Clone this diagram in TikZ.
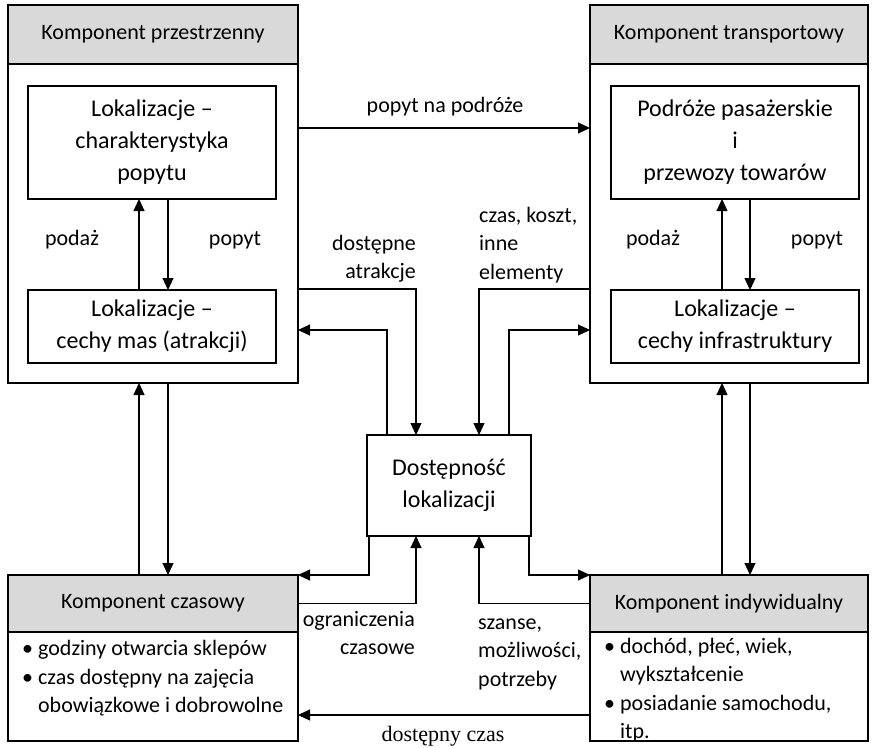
\documentclass[tikz,border=0pt]{standalone}
\usepackage{fontspec}
\setmainfont{Carlito}
\newfontfamily\timesfont{Liberation Serif}
\usetikzlibrary{positioning,arrows.meta}
\definecolor{headgray}{RGB}{217,217,217}

\begin{document}
\begin{tikzpicture}[x=1pt, y=-1pt,
    head/.style={draw, fill=headgray, line width=1.1pt, inner sep=0pt, outer sep=0pt, font=\fontsize{22}{26}\selectfont},
    body/.style={draw, line width=1.1pt, inner sep=0pt, outer sep=0pt},
    inbox/.style={draw, line width=1.1pt, minimum width=248, inner sep=0pt, outer sep=0pt, align=center, font=\fontsize{24}{32}\selectfont},
    lbl/.style={inner sep=0pt, font=\fontsize{22}{28.5}\selectfont},
    arrow/.style={-{Triangle[length=12pt,width=11pt]}, line width=1.1pt}
]
    \useasboundingbox (0,0) rectangle (875,747);

    % four components
    \node[head, minimum width=290, minimum height=59] (przestrzHead) at (153,34.5) {Komponent przestrzenny};
    \node[body, minimum width=290, minimum height=319, below=0pt of przestrzHead] (przestrz) {};
    \node[head, minimum width=278, minimum height=59] (transpHead) at (729,34.5) {Komponent transportowy};
    \node[body, minimum width=278, minimum height=319, below=0pt of transpHead] (transp) {};
    \node[head, minimum width=290, minimum height=57] (czasHead) at (153,603.5) {Komponent czasowy};
    \node[body, minimum width=290, minimum height=109, below=0pt of czasHead] (czasBody) {};
    \node[head, minimum width=278, minimum height=57] (indHead) at (729,603.5) {Komponent indywidualny};
    \node[body, minimum width=278, minimum height=109, below=0pt of indHead] (indBody) {};

    % inner boxes
    \node[inbox, minimum height=113] (lokPop) at (152,142.5) {Lokalizacje --\\charakterystyka\\popytu};
    \node[inbox, minimum height=73] (lokMas) at (152,326.5) {Lokalizacje --\\cechy mas (atrakcji)};
    \node[inbox, minimum height=113] (podr) at (735,142.5) {Podróże pasażerskie\\i\\przewozy towarów};
    \node[inbox, minimum height=73] (lokInf) at (735,326.5) {Lokalizacje --\\cechy infrastruktury};
    \node[inbox, minimum width=164, minimum height=101] (dost) at (449,485.5) {Dostępność\\lokalizacji};

    % lists
    \node[lbl, anchor=west, align=left] (czasList) at (22,678.5)
        {\textbullet\ godziny otwarcia sklepów\\\textbullet\ czas dostępny na zajęcia\\\hphantom{\textbullet}\ obowiązkowe i dobrowolne};
    \node[lbl, anchor=west, align=left] (indList) at (604,690)
        {\textbullet\ dochód, płeć, wiek,\\\hphantom{\textbullet}\ wykształcenie\\\textbullet\ posiadanie samochodu,\\\hphantom{\textbullet}\ itp.};

    % labels
    \node[lbl] (popytTop) at (445,107) {popyt na podróże};
    \node[lbl] (podazL) at (72,240) {podaż};
    \node[lbl] (popytL) at (235,240) {popyt};
    \node[lbl] (podazR) at (653,240) {podaż};
    \node[lbl] (popytR) at (817,240) {popyt};
    \node[lbl, anchor=east, align=right] (dostAtr) at (416,258.5) {dostępne\\atrakcje};
    \node[lbl, anchor=west, align=left] (czasKoszt) at (479,245) {czas, koszt,\\inne\\elementy};
    \node[lbl, anchor=east, align=right] (ogran) at (415,633) {ograniczenia\\czasowe};
    \node[lbl, anchor=west, align=left] (szanse) at (478,654) {szanse,\\możliwości,\\potrzeby};
    \node[inner sep=0pt, font=\timesfont\fontsize{22}{26}\selectfont] (dostCzas) at (443,736) {dostępny czas};

    % inside the components
    \draw[arrow] ([xshift=-13]lokMas.north) -- ([xshift=-13]lokPop.south);
    \draw[arrow] ([xshift=16]lokPop.south) -- ([xshift=16]lokMas.north);
    \draw[arrow] ([xshift=-13]lokInf.north) -- ([xshift=-13]podr.south);
    \draw[arrow] ([xshift=15]podr.south) -- ([xshift=15]lokInf.north);

    % between the components
    \draw[arrow] ([yshift=95.5]przestrz.east) -- ([yshift=95.5]transp.west);
    \draw[arrow] ([xshift=-14]czasHead.north) -- ([xshift=-14]przestrz.south);
    \draw[arrow] ([xshift=15]przestrz.south) -- ([xshift=15]czasHead.north);
    \draw[arrow] ([xshift=-7]indHead.north) -- ([xshift=-7]transp.south);
    \draw[arrow] ([xshift=21]transp.south) -- ([xshift=21]indHead.north);
    \draw[arrow] ([yshift=-28.5]indBody.west) -- ([yshift=-28.5]czasBody.east);

    % to and from the accessibility box
    \draw[arrow] ([yshift=-65.5]przestrz.east) -| ([xshift=-33]dost.north);
    \draw[arrow] ([xshift=-62]dost.north) |- ([yshift=-106.5]przestrz.east);
    \draw[arrow] ([yshift=-65.5]transp.west) -| ([xshift=30]dost.north);
    \draw[arrow] ([xshift=60]dost.north) |- ([yshift=-106.5]transp.west);
    \draw[arrow] ([xshift=2]dost.south west) |- (czasHead.north east);
    \draw[arrow] (czasHead.east) -| ([xshift=-33]dost.south);
    \draw[arrow] (indHead.west) -| ([xshift=30]dost.south);
    \draw[arrow] ([xshift=-2]dost.south east) |- (indHead.north west);
\end{tikzpicture}
\end{document}
